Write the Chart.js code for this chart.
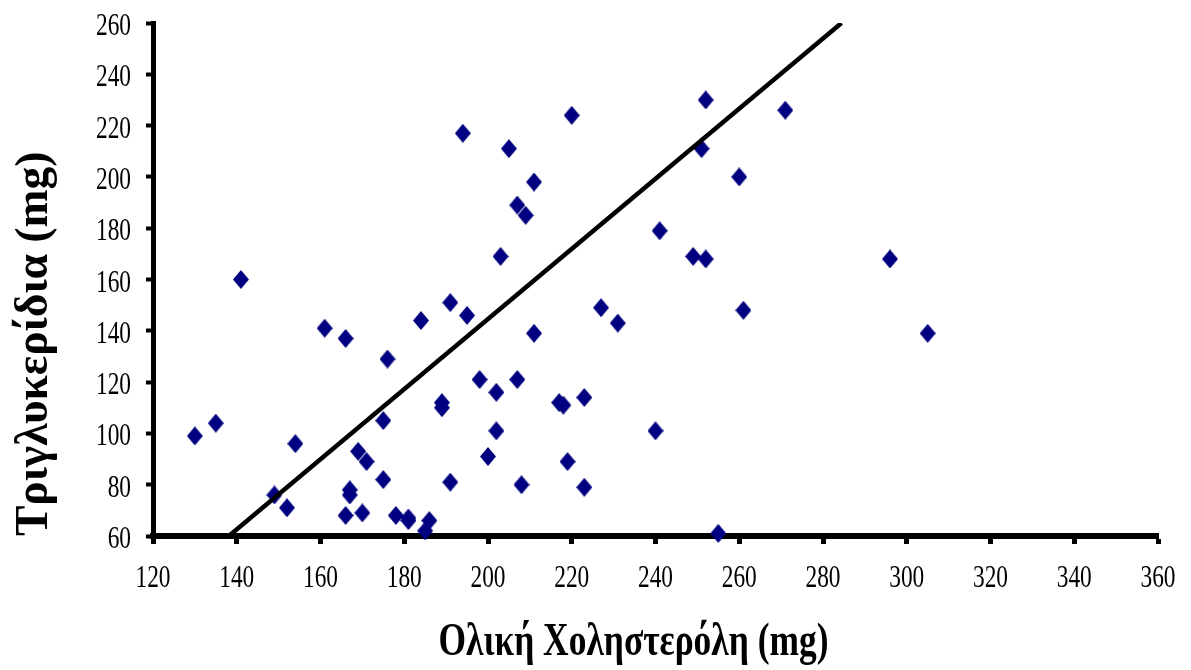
<!DOCTYPE html>
<html>
<head>
<meta charset="utf-8">
<script src="https://cdn.jsdelivr.net/npm/chart.js@4"></script>
<style>
  html, body { margin: 0; background: #fff; }
  #wrap { width: 1191px; height: 670px; }
</style>
</head>
<body>
<div id="wrap"><canvas id="chart"></canvas></div>
<script>
// ===== Data: total cholesterol vs triglycerides =====
const cholesterol = [130, 135, 141, 149, 152, 154, 161, 166, 166, 167, 167, 169, 170, 171,
  175, 175, 176, 178, 181, 181, 184, 185, 186, 189, 189, 191, 191, 194, 195, 198, 200,
  202, 202, 203, 205, 207, 207, 208, 209, 211, 211, 217, 218, 219, 220, 223, 223,
  227, 231, 240, 241, 249, 251, 252, 252, 255, 260, 261, 271, 296, 305];
const triglycerides = [99, 104, 160, 76, 71, 96, 141, 137, 68, 78, 76, 93, 69, 89,
  82, 105, 129, 68, 67, 66, 144, 62, 66, 112, 110, 81, 151, 217, 146, 121, 91,
  116, 101, 169, 211, 121, 189, 80, 185, 198, 139, 112, 111, 89, 224, 114, 79,
  149, 143, 101, 179, 169, 211, 230, 168, 61, 200, 148, 226, 168, 139];

const xTicks = [120, 140, 160, 180, 200, 220, 240, 260, 280, 300, 320, 340, 360];
const yTicks = [60, 80, 100, 120, 140, 160, 180, 200, 220, 240, 260];

const xTitle = 'Ολική Χοληστερόλη (mg)';
const yTitle = 'Τριγλυκερίδια (mg)';

// trend line: y = slope * x + intercept
const trendSlope = 1.367;
const trendIntercept = -128.8;

// ===== Helpers =====
const points = cholesterol.map((x, i) => ({ x: x, y: triglycerides[i] }));

// line runs from the bottom of the y range to the top
const yMin = yTicks[0], yMax = yTicks[yTicks.length - 1];
const trend = [yMin, yMax].map(y => ({ x: (y - trendIntercept) / trendSlope, y: y }));

// diamond marker, a little taller than wide
function diamond(w, h, color) {
  const c = document.createElement('canvas');
  c.width = w; c.height = h;
  const g = c.getContext('2d');
  g.fillStyle = color;
  g.beginPath();
  g.moveTo(w / 2, 0);
  g.lineTo(w, h / 2);
  g.lineTo(w / 2, h);
  g.lineTo(0, h / 2);
  g.closePath();
  g.fill();
  return c;
}

// narrow serif text: labels are squeezed along their reading direction
function squeezedText(ctx, text, x, y, sx, align, rot) {
  ctx.save();
  ctx.translate(x, y);
  if (rot) ctx.rotate(rot);
  ctx.scale(sx, 1);
  ctx.textAlign = align;
  ctx.textBaseline = 'alphabetic';
  ctx.fillText(text, 0, 0);
  ctx.restore();
}

const axisLabels = {
  id: 'axisLabels',
  afterDraw(chart) {
    const ctx = chart.ctx;
    const area = chart.chartArea;
    const xs = chart.scales.x, ys = chart.scales.y;
    ctx.fillStyle = '#000';

    // tick labels
    ctx.font = '32px "Liberation Serif"';
    xTicks.forEach(v => {
      squeezedText(ctx, String(v), xs.getPixelForValue(v), area.bottom + 51, 0.73, 'center');
    });
    yTicks.forEach(v => {
      squeezedText(ctx, String(v), area.left - 22, ys.getPixelForValue(v) + 12, 0.73, 'right');
    });

    // axis titles
    ctx.font = 'bold 46px "Liberation Serif"';
    squeezedText(ctx, xTitle, (area.left + area.right) / 2 - 22, area.bottom + 119, 0.77, 'center');
    squeezedText(ctx, yTitle, 47, area.bottom, 0.99, 'left', -Math.PI / 2);
  }
};

// ===== Chart =====
new Chart(document.getElementById('chart'), {
  type: 'scatter',
  data: {
    datasets: [
      {
        type: 'line',
        data: trend,
        borderColor: '#000',
        borderWidth: 4.5,
        pointRadius: 0,
        order: 0
      },
      {
        data: points,
        pointStyle: diamond(16, 19, '#000080'),
        pointRadius: 8,
        clip: false,
        order: 1
      }
    ]
  },
  options: {
    responsive: true,
    maintainAspectRatio: false,
    animation: false,
    layout: { padding: { top: 23, right: 33, left: 0, bottom: 0 } },
    plugins: { legend: { display: false }, tooltip: { enabled: false } },
    scales: {
      x: {
        type: 'linear',
        min: xTicks[0],
        max: xTicks[xTicks.length - 1],
        ticks: { stepSize: 20, display: false },
        grid: { drawOnChartArea: false, drawTicks: true, tickLength: 8, tickWidth: 5, tickColor: '#000' },
        border: { color: '#000', width: 6 },
        afterFit: s => { s.height = 134; }
      },
      y: {
        min: yMin,
        max: yMax,
        ticks: { stepSize: 20, display: false },
        grid: { drawOnChartArea: false, drawTicks: true, tickLength: 7, tickWidth: 4, tickColor: '#000' },
        border: { color: '#000', width: 5 },
        afterFit: s => { s.width = 153; }
      }
    }
  },
  plugins: [axisLabels]
});
</script>
</body>
</html>
